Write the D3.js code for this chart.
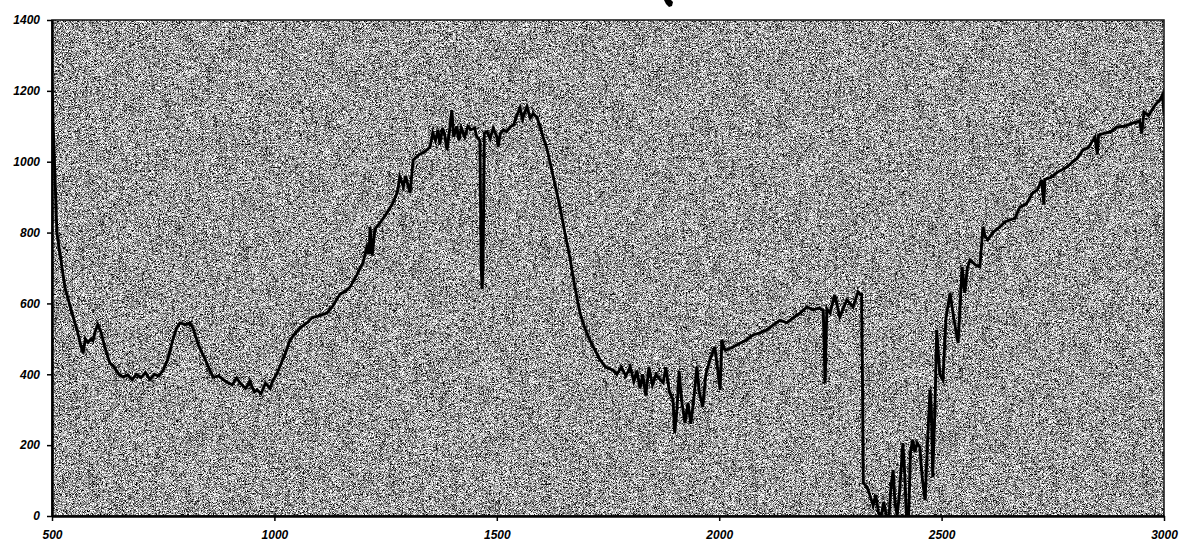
<!DOCTYPE html>
<html>
<head>
<meta charset="utf-8">
<script src="https://cdn.jsdelivr.net/npm/d3@7"></script>
<style>
  body { margin: 0; background: #fff; }
  .lbl { font-family: "Liberation Sans", Arial, sans-serif; font-weight: bold; font-style: italic; font-size: 12px; fill: #000; }
</style>
</head>
<body>
<svg id="chart" width="1181" height="541"></svg>
<script>
var xVals = [500, 502, 505, 511, 529, 545, 558, 565, 570, 575, 581, 588, 592, 597, 603, 610, 618, 630, 640, 650,
  660, 670, 680, 690, 700, 710, 720, 730, 740, 750, 760, 770, 780, 788, 800, 810, 817, 830, 845, 862,
  875, 890, 905, 915, 923, 935, 945, 955, 961, 970, 980, 990, 997, 1005, 1015, 1025, 1035, 1050, 1062, 1073,
  1085, 1100, 1118, 1130, 1147, 1160, 1170, 1185, 1199, 1208, 1213, 1215, 1220, 1226, 1237, 1250, 1265, 1276, 1282, 1290,
  1295, 1305, 1312, 1325, 1340, 1350, 1356, 1362, 1368, 1372, 1378, 1383, 1388, 1393, 1399, 1403, 1410, 1415, 1420, 1428,
  1435, 1442, 1450, 1455, 1462, 1465, 1467, 1469, 1472, 1478, 1485, 1492, 1500, 1503, 1508, 1515, 1522, 1530, 1538, 1545,
  1552, 1558, 1563, 1568, 1575, 1582, 1590, 1597, 1604, 1612, 1620, 1630, 1642, 1653, 1664, 1675, 1687, 1698, 1709, 1720,
  1732, 1745, 1761, 1770, 1780, 1790, 1800, 1808, 1815, 1822, 1828, 1835, 1842, 1850, 1858, 1867, 1874, 1880, 1888, 1896,
  1900, 1905, 1910, 1915, 1923, 1930, 1936, 1941, 1950, 1955, 1963, 1970, 1979, 1985, 1990, 1996, 2002, 2006, 2012, 2017,
  2031, 2047, 2062, 2076, 2092, 2107, 2121, 2137, 2152, 2166, 2182, 2197, 2211, 2226, 2234, 2238, 2242, 2249, 2260, 2271,
  2287, 2301, 2312, 2318, 2320, 2322, 2324, 2332, 2340, 2346, 2352, 2358, 2364, 2370, 2376,
  2382, 2386, 2391, 2395, 2400, 2405, 2410, 2413, 2417, 2421, 2426, 2430, 2435, 2440, 2445, 2451, 2457, 2463, 2468, 2474,
  2477, 2480, 2485, 2489, 2496, 2503, 2510, 2519, 2527, 2537, 2542, 2546, 2552, 2558, 2564, 2575, 2586, 2593, 2598, 2604,
  2615, 2631, 2642, 2654, 2665, 2676, 2690, 2705, 2715, 2725, 2730, 2732, 2745, 2760, 2782, 2795, 2805, 2818, 2830, 2845,
  2850, 2853, 2865, 2880, 2894, 2910, 2930, 2945, 2950, 2955, 2965, 2980, 2991, 2997, 3000];
var signal = [1220, 1120, 1020, 800, 646, 573, 517, 480, 460, 500, 490, 500, 495, 520, 540, 520, 480, 432, 420, 400,
  392, 398, 385, 400, 390, 405, 385, 400, 395, 412, 440, 490, 530, 545, 540, 545, 530, 480, 440, 392,
  395, 380, 370, 390, 375, 360, 380, 350, 356, 345, 375, 360, 384, 400, 430, 460, 497, 520, 535, 545,
  560, 565, 573, 590, 625, 635, 646, 680, 714, 760, 740, 816, 735, 810, 827, 850, 880, 912, 957, 930,
  960, 912, 1005, 1020, 1030, 1042, 1081, 1060, 1090, 1050, 1095, 1075, 1033, 1080, 1146, 1070, 1100, 1060, 1095, 1070,
  1100, 1090, 1095, 1070, 1060, 700, 640, 700, 1080, 1085, 1065, 1095, 1070, 1042, 1080, 1090, 1085, 1098, 1105, 1130,
  1152, 1120, 1140, 1155, 1124, 1135, 1126, 1100, 1070, 1040, 997, 940, 872, 800, 731, 650, 573, 530, 497, 470,
  441, 420, 412, 400, 420, 395, 420, 380, 410, 360, 400, 340, 420, 370, 400, 385, 376, 420, 350, 330,
  234, 300, 410, 330, 263, 320, 260, 308, 421, 350, 308, 400, 440, 460, 477, 420, 356, 497, 470, 469,
  477, 488, 497, 511, 517, 525, 539, 553, 545, 559, 573, 590, 582, 587, 580, 375, 585, 573, 624, 562,
  610, 590, 632, 625, 630, 400, 93, 82, 54, 30, 60, 10, 0, 40, 0,
  0, 80, 130, 40, 0, 60, 150, 206, 120, 0, 0, 180, 215, 180, 206, 195, 100, 45, 200, 356,
  300, 110, 300, 525, 400, 384, 560, 630, 560, 488, 600, 703, 630, 700, 723, 710, 703, 816, 790, 779,
  800, 816, 830, 836, 840, 872, 880, 912, 920, 949, 880, 950, 955, 970, 985, 1000, 1010, 1033, 1040, 1070,
  1020, 1075, 1080, 1085, 1098, 1100, 1109, 1115, 1080, 1140, 1130, 1160, 1175, 1190, 1130];
var xTicks = [500, 1000, 1500, 2000, 2500, 3000];
var yTicks = [0, 200, 400, 600, 800, 1000, 1200, 1400];

var svg = d3.select("#chart");
var margin = { left: 52, right: 17, top: 20, bottom: 25 };
var width = 1181 - margin.left - margin.right;
var height = 541 - margin.top - margin.bottom;

var data = xVals.map(function (d, i) { return { x: d, y: signal[i] }; });

var x = d3.scaleLinear().domain([500, 3000]).range([0, width]);
var y = d3.scaleLinear().domain([0, 1400]).range([height, 0]);

// speckled grey plot background
var defs = svg.append("defs");
var f = defs.append("filter").attr("id", "speckle")
  .attr("x", 0).attr("y", 0).attr("width", 1).attr("height", 1)
  .attr("color-interpolation-filters", "sRGB");
f.append("feTurbulence").attr("type", "fractalNoise").attr("baseFrequency", 1.7)
  .attr("numOctaves", 1).attr("seed", 7);
f.append("feColorMatrix").attr("type", "matrix")
  .attr("values", "1 0 0 0 0  1 0 0 0 0  1 0 0 0 0  0 0 0 0 1");
var ct = f.append("feComponentTransfer");
["feFuncR", "feFuncG", "feFuncB"].forEach(function (c) {
  ct.append(c).attr("type", "linear").attr("slope", 3.0).attr("intercept", -0.88);
});
defs.append("clipPath").attr("id", "plotclip")
  .append("rect").attr("width", width).attr("height", height);

// clipped remnant of a glyph above the frame
svg.append("path").attr("d", "M664,0 L666,4 L669,7 L672,6 L673,2 L671,0 Z").attr("fill", "#000");

var g = svg.append("g").attr("transform", "translate(" + margin.left + "," + margin.top + ")");

g.append("rect").attr("width", width).attr("height", height)
  .attr("fill", "#aaa").attr("filter", "url(#speckle)");

g.append("path")
  .datum(data)
  .attr("clip-path", "url(#plotclip)")
  .attr("fill", "none")
  .attr("stroke", "#000")
  .attr("stroke-width", 2.9)
  .attr("stroke-linejoin", "miter")
  .attr("d", d3.line().x(function (d) { return x(d.x); }).y(function (d) { return y(d.y); }));

// frame
g.append("rect").attr("width", width).attr("height", height)
  .attr("fill", "none").attr("stroke", "#111").attr("stroke-width", 1.5);

var yAxis = g.append("g").call(d3.axisLeft(y).tickValues(yTicks).tickFormat(d3.format("d"))
  .tickSize(5).tickSizeOuter(0).tickPadding(7));
var xAxis = g.append("g").attr("transform", "translate(0," + height + ")")
  .call(d3.axisBottom(x).tickValues(xTicks).tickFormat(d3.format("d"))
    .tickSize(5).tickSizeOuter(0).tickPadding(9));
[yAxis, xAxis].forEach(function (a) {
  a.select(".domain").attr("stroke", "#000").attr("stroke-width", 2.5);
  a.selectAll(".tick line").attr("stroke", "#000").attr("stroke-width", 1.5);
  a.selectAll(".tick text").attr("class", "lbl");
});
</script>
</body>
</html>
